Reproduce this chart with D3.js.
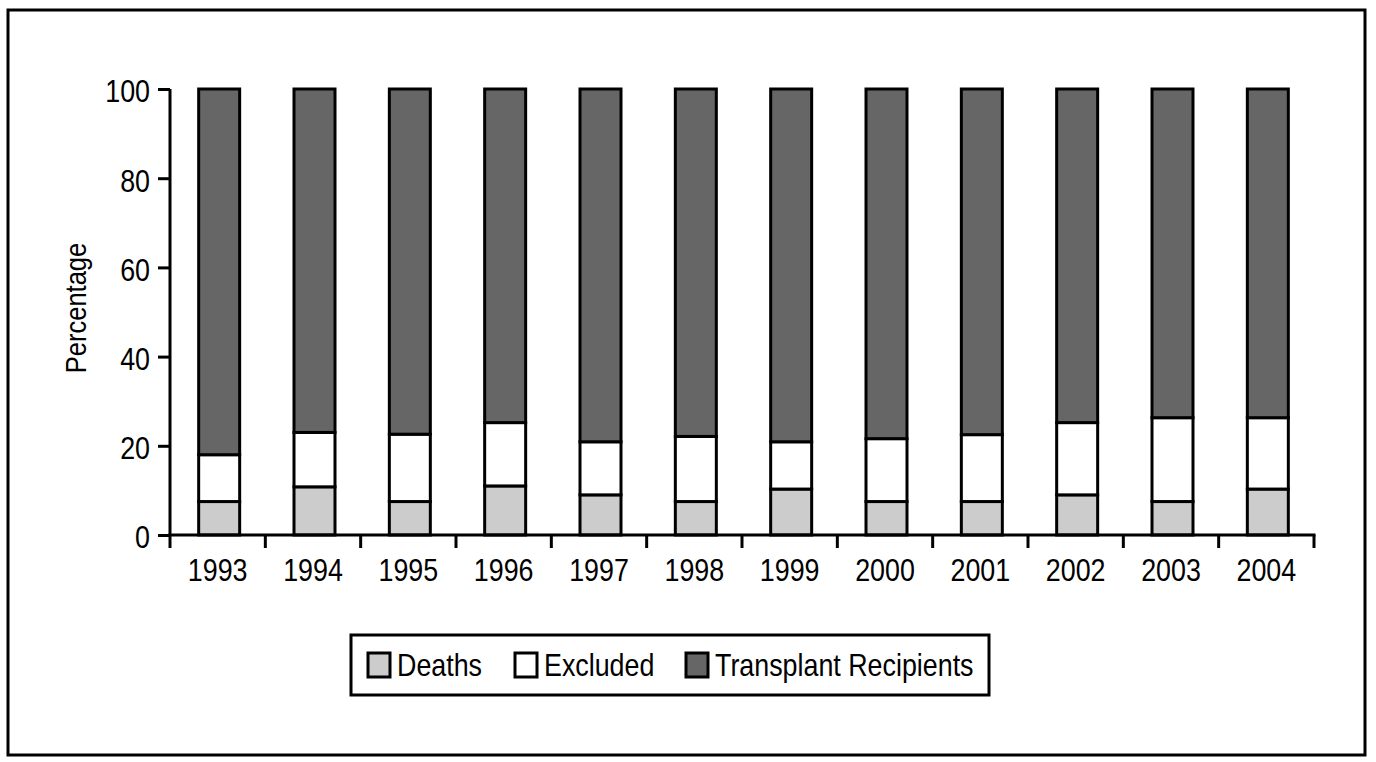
<!DOCTYPE html>
<html><head><meta charset="utf-8">
<script src="https://cdn.jsdelivr.net/npm/d3@7/dist/d3.min.js"></script>
<style>body{margin:0;background:#fff}svg{display:block}text{font-family:"Liberation Sans",Arial,sans-serif}</style>
</head><body><svg id="c" width="1376" height="762"></svg>
<script>
const years = ["1993","1994","1995","1996","1997","1998","1999","2000","2001","2002","2003","2004"];
const deaths = [7.5,10.8,7.5,11,9,7.5,10.3,7.5,7.5,9,7.5,10.3];
const excluded = [10.5,12.2,15.1,14.2,11.9,14.6,10.6,14.1,15,16.2,18.8,16];
const transplant = years.map((y,i)=>+(100-deaths[i]-excluded[i]).toFixed(1));
const seriesNames = ["Deaths","Excluded","Transplant Recipients"];
const seriesColors = ["#cccccc","#ffffff","#666666"];
const yTicks = [0,20,40,60,80,100];

const SX = 0.88;
function condense(sel){
  sel.each(function(){
    const t = d3.select(this);
    const x = +t.attr("x") || 0;
    t.attr("x", x/SX).attr("transform", `scale(${SX},1)`);
  });
}

const svg = d3.select("#c");
svg.append("rect").attr("x",8).attr("y",10).attr("width",1357).attr("height",745)
  .attr("fill","none").attr("stroke","#000").attr("stroke-width",3);

const x = d3.scaleBand().domain(years).range([170,1314]).paddingInner(0.57).paddingOuter(0.285);
const y = d3.scaleLinear().domain([0,100]).range([535,89]);

const rows = years.map((yr,i)=>({year:yr, Deaths:deaths[i], Excluded:excluded[i], "Transplant Recipients":transplant[i]}));
const stack = d3.stack().keys(seriesNames)(rows);

const g = svg.append("g").attr("transform","translate(1.5,0)");
stack.forEach((s,si)=>{
  g.selectAll(null).data(s).enter().append("rect")
    .attr("x",d=>x(d.data.year)).attr("width",x.bandwidth())
    .attr("y",d=>y(d[1])).attr("height",d=>y(d[0])-y(d[1]))
    .attr("fill",seriesColors[si]).attr("stroke","#000").attr("stroke-width",3);
});

// y axis
const ya = svg.append("g").attr("transform","translate(170,0)")
  .call(d3.axisLeft(y).tickValues(yTicks).tickSize(12).tickPadding(8));
ya.select(".domain").attr("stroke-width",3).attr("d","M0,536V89");
ya.selectAll(".tick line").attr("stroke-width",3);
ya.selectAll(".tick text").attr("font-size",30.5).attr("font-family",null).attr("fill","#000").attr("dy","0.42em");
condense(ya.selectAll(".tick text"));

// x axis
const xa = svg.append("g").attr("transform","translate(0,535)")
  .call(d3.axisBottom(x).tickSize(0).tickPadding(24));
xa.select(".domain").attr("stroke-width",3).attr("d","M168.5,0H1315.5");
xa.selectAll(".tick text").attr("font-size",30.5).attr("font-family",null).attr("fill","#000");
condense(xa.selectAll(".tick text"));
const bounds = d3.range(years.length+1).map(i=>170+i*(1144/years.length));
xa.selectAll(".bnd").data(bounds).enter().append("line").attr("class","bnd")
  .attr("x1",d=>d).attr("x2",d=>d).attr("y1",0).attr("y2",13).attr("stroke","#000").attr("stroke-width",3);

svg.append("g").attr("transform","translate(86,308) rotate(-90)")
  .append("text").attr("text-anchor","middle").attr("font-size",29).text("Percentage")
  .call(condense);

// legend
const lg = svg.append("g");
lg.append("rect").attr("x",351).attr("y",635).attr("width",638).attr("height",60)
  .attr("fill","#fff").attr("stroke","#000").attr("stroke-width",3);
const lx = [368,515,686];
seriesNames.forEach((n,i)=>{
  lg.append("rect").attr("x",lx[i]).attr("y",653).attr("width",22).attr("height",24)
    .attr("fill",seriesColors[i]).attr("stroke","#000").attr("stroke-width",3);
  lg.append("g").attr("transform",`translate(${lx[i]+29},676)`)
    .append("text").attr("font-size",30.5).text(n).call(condense);
});
</script></body></html>
